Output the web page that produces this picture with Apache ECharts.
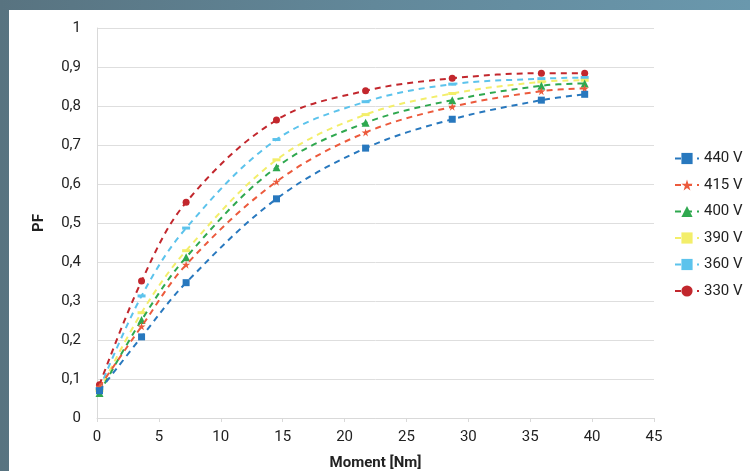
<!DOCTYPE html>
<html>
<head>
<meta charset="utf-8">
<script src="https://cdn.jsdelivr.net/npm/echarts@6/dist/echarts.min.js"></script>
<style>
html,body{margin:0;padding:0;width:750px;height:471px;overflow:hidden;}
body{background:linear-gradient(90deg,#587380 0%,#62889a 50%,#6a98ad 100%);position:relative;}
#chart{position:absolute;left:9px;top:10px;width:741px;height:461px;background:#ffffff;}
</style>
</head>
<body>
<div id="chart"></div>
<script>
const moments = [0.2, 3.6, 7.2, 14.5, 21.7, 28.7, 35.9, 39.4];
const seriesNames = ['440 V', '415 V', '400 V', '390 V', '360 V', '330 V'];
const pf440 = [0.070, 0.208, 0.347, 0.562, 0.692, 0.766, 0.815, 0.830];
const pf415 = [0.080, 0.235, 0.393, 0.606, 0.732, 0.798, 0.838, 0.845];
const pf400 = [0.064, 0.251, 0.412, 0.643, 0.757, 0.815, 0.852, 0.858];
const pf390 = [0.070, 0.270, 0.429, 0.662, 0.778, 0.832, 0.862, 0.866];
const pf360 = [0.075, 0.313, 0.487, 0.714, 0.811, 0.856, 0.870, 0.873];
const pf330 = [0.085, 0.351, 0.553, 0.764, 0.839, 0.871, 0.884, 0.884];
const xTicks = [0, 5, 10, 15, 20, 25, 30, 35, 40, 45];

const values = [pf440, pf415, pf400, pf390, pf360, pf330];
const colors = ['#2878be', '#ec5a3c', '#2fa84f', '#f3ee6a', '#5cc3ec', '#c2272d'];
const starPath = 'path://M50,0 L61,35 L98,35 L68,57 L79,92 L50,70 L21,92 L32,57 L2,35 L39,35 Z';
const symbols = ['rect', starPath, 'triangle', 'rect', 'rect', 'circle'];
const symbolSizes = [7, 8, 8, [8, 3], [8, 3], 7];

const font = 'Roboto, "DejaVu Sans", sans-serif';
const chart = echarts.init(document.getElementById('chart'), null, {renderer: 'canvas'});

const series = seriesNames.map((name, i) => ({
  name: name,
  type: 'line',
  smooth: 0.35,
  data: moments.map((m, j) => [m, values[i][j]]),
  symbol: symbols[i],
  symbolSize: symbolSizes[i],
  showSymbol: true,
  itemStyle: {color: colors[i]},
  lineStyle: {color: colors[i], width: 2, type: [6, 5]},
  z: 10 - i
}));

chart.setOption({
  animation: false,
  backgroundColor: '#ffffff',
  grid: {left: 88, right: 96, top: 18, bottom: 53, containLabel: false, outerBoundsMode: 'none'},
  legend: {
    orient: 'vertical',
    left: 660,
    top: 136,
    itemGap: 11.5,
    itemWidth: 24,
    itemHeight: 14,
    textStyle: {fontFamily: font, fontSize: 15, color: '#222'},
    data: seriesNames
  },
  xAxis: {
    type: 'value',
    min: 0, max: 45, interval: 5,
    name: 'Moment [Nm]',
    nameLocation: 'middle',
    nameGap: 38,
    nameTextStyle: {fontFamily: font, fontSize: 15, fontWeight: 'bold', color: '#222'},
    axisLine: {show: true, lineStyle: {color: '#d9d9d9', width: 1}},
    axisTick: {show: true, length: 4, lineStyle: {color: '#d9d9d9'}},
    splitLine: {show: false},
    axisLabel: {fontFamily: font, fontSize: 15, color: '#222', margin: 12,
      formatter: v => xTicks.includes(v) ? String(v) : ''}
  },
  yAxis: {
    type: 'value',
    min: 0, max: 1, interval: 0.1,
    name: 'PF',
    nameLocation: 'middle',
    nameGap: 50,
    nameTextStyle: {fontFamily: font, fontSize: 15, fontWeight: 'bold', color: '#222'},
    axisLine: {show: true, lineStyle: {color: '#d9d9d9', width: 1}},
    axisTick: {show: false},
    splitLine: {show: true, lineStyle: {color: '#dedede', width: 1}},
    axisLabel: {fontFamily: font, fontSize: 15, color: '#222', margin: 16,
      formatter: v => String(Math.round(v * 10) / 10).replace('.', ',')}
  },
  series: series
});
</script>
</body>
</html>
